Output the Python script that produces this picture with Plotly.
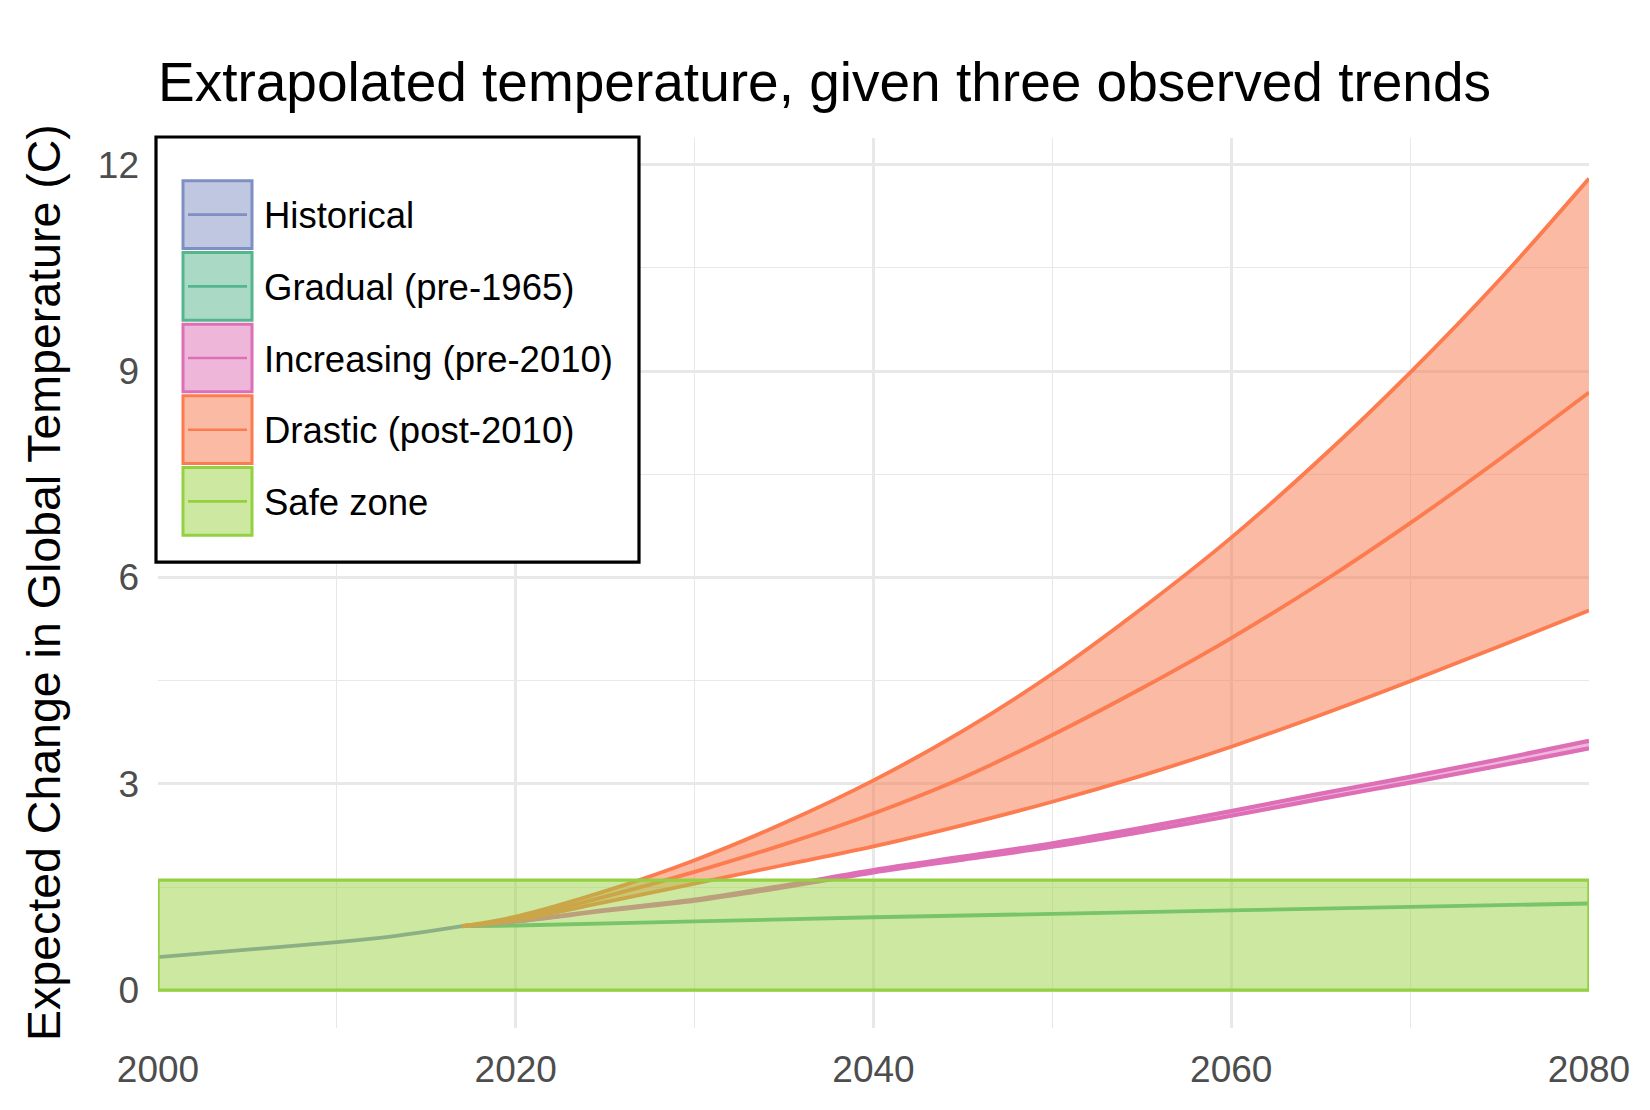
import plotly.graph_objects as go

# ---------------- data ----------------
hist_years = [2000, 2005, 2010, 2013, 2015, 2017]
hist_vals = [0.48, 0.59, 0.70, 0.78, 0.85, 0.93]

grad_years = [2017, 2020, 2030, 2040, 2050, 2060, 2070, 2080]
grad_vals = [0.93, 0.94, 1.00, 1.06, 1.11, 1.16, 1.21, 1.26]

proj_years = [2017, 2020, 2025, 2030, 2035, 2040, 2045, 2050, 2055, 2060, 2065, 2070, 2075, 2080]
incr_lo = [0.93, 0.998, 1.155, 1.302, 1.498, 1.713, 1.899, 2.085, 2.301, 2.536, 2.782, 3.018, 3.263, 3.515]
incr_hi = [0.93, 1.002, 1.165, 1.318, 1.522, 1.747, 1.941, 2.135, 2.359, 2.604, 2.858, 3.102, 3.357, 3.625]
drast_lo = [0.93, 1.02, 1.28, 1.55, 1.82, 2.09, 2.40, 2.74, 3.12, 3.54, 4.00, 4.49, 5.00, 5.52]
drast_mid = [0.93, 1.04, 1.36, 1.72, 2.12, 2.57, 3.09, 3.71, 4.39, 5.12, 5.92, 6.79, 7.72, 8.69]
drast_hi = [0.93, 1.07, 1.44, 1.89, 2.43, 3.05, 3.77, 4.60, 5.55, 6.58, 7.73, 8.98, 10.33, 11.80]

safe_x = [2000, 2080, 2080, 2000, 2000]
safe_y = [0.0, 0.0, 1.6, 1.6, 0.0]

legend_labels = ["Historical", "Gradual (pre-1965)", "Increasing (pre-2010)",
                 "Drastic (post-2010)", "Safe zone"]

# ---------------- styles ----------------
C_HIST = "#7F8FC4"
C_GRAD = "#55B68E"
C_INCR = "#DE6FB6"
C_DRAS = "#FC7B4F"
C_SAFE = "#93D140"
F_HIST = "rgba(127,143,196,0.5)"
F_GRAD = "rgba(85,182,142,0.5)"
F_INCR = "rgba(222,111,182,0.5)"
F_DRAS = "rgba(247,118,72,0.5)"
F_SAFE = "rgba(153,209,67,0.5)"
legend_line = [C_HIST, C_GRAD, C_INCR, C_DRAS, C_SAFE]
legend_fill = [F_HIST, F_GRAD, F_INCR, F_DRAS, F_SAFE]

FONT = "Liberation Sans, Arial, Helvetica, sans-serif"
OFF = 8                      # page body margin in the browser
W, H = 1650 - 2 * OFF, 1110 - 2 * OFF
# plot area in screen pixels
SL, SR, ST, SB = 158, 1589, 138, 1032
L, R, T, B = SL - OFF, SR - OFF, ST - OFF, SB - OFF
LW = 3.8

def px(x):
    return (x - OFF - L) / (R - L)

def py(y):
    return (B - (y - OFF)) / (B - T)

fig = go.Figure()
sp = dict(shape="spline", smoothing=1.0)

fig.add_trace(go.Scatter(x=hist_years, y=hist_vals, mode="lines",
                         line=dict(color=C_HIST, width=LW, **sp), showlegend=False))
fig.add_trace(go.Scatter(x=grad_years, y=grad_vals, mode="lines",
                         line=dict(color=C_GRAD, width=LW, **sp), showlegend=False))
fig.add_trace(go.Scatter(x=proj_years, y=incr_lo, mode="lines",
                         line=dict(color=C_INCR, width=4.2, **sp), showlegend=False))
fig.add_trace(go.Scatter(x=proj_years, y=incr_hi, mode="lines", fill="tonexty",
                         fillcolor=F_INCR,
                         line=dict(color=C_INCR, width=4.2, **sp), showlegend=False))
fig.add_trace(go.Scatter(x=proj_years, y=drast_lo, mode="lines",
                         line=dict(color=C_DRAS, width=LW, **sp), showlegend=False))
fig.add_trace(go.Scatter(x=proj_years, y=drast_hi, mode="lines", fill="tonexty",
                         fillcolor=F_DRAS,
                         line=dict(color=C_DRAS, width=LW, **sp), showlegend=False))
fig.add_trace(go.Scatter(x=proj_years, y=drast_mid, mode="lines",
                         line=dict(color=C_DRAS, width=LW, **sp), showlegend=False))
fig.add_trace(go.Scatter(x=safe_x, y=safe_y, mode="lines", fill="toself",
                         fillcolor=F_SAFE,
                         line=dict(color=C_SAFE, width=3.4), showlegend=False))

# ---------------- manual legend ----------------
shapes = []
annotations = []
shapes.append(dict(type="rect", xref="paper", yref="paper",
                   x0=px(156), x1=px(639), y0=py(564), y1=py(137),
                   line=dict(color="black", width=3.2), fillcolor="white", layer="above"))
for i, lab in enumerate(legend_labels):
    top = 181 + 72 * i
    bot = top + 68
    cy = (top + bot) / 2
    shapes.append(dict(type="rect", xref="paper", yref="paper",
                       x0=px(183), x1=px(252), y0=py(bot), y1=py(top),
                       line=dict(color=legend_line[i], width=3),
                       fillcolor=legend_fill[i], layer="above"))
    shapes.append(dict(type="line", xref="paper", yref="paper",
                       x0=px(188), x1=px(247), y0=py(cy), y1=py(cy),
                       line=dict(color=legend_line[i], width=2.6), layer="above"))
    annotations.append(dict(xref="paper", yref="paper", x=px(262), y=py(cy + 1),
                            xanchor="left", yanchor="middle", showarrow=False,
                            text=lab, font=dict(family=FONT, size=36.5, color="black")))

annotations.append(dict(xref="paper", yref="paper", x=px(44), y=0.5,
                        xanchor="center", yanchor="middle", showarrow=False,
                        textangle=-90, text="Expected Change in Global Temperature (C)",
                        font=dict(family=FONT, size=46.5, color="black")))

fig.update_layout(
    width=W, height=H,
    margin=dict(l=L, r=W - R, t=T, b=H - B, pad=0),
    paper_bgcolor="white", plot_bgcolor="white",
    title=dict(text="Extrapolated temperature, given three observed trends",
               xref="paper", x=0, xanchor="left",
               yref="container", y=1 - (82 - OFF) / H, yanchor="middle",
               pad=dict(l=0, r=0, t=0, b=0),
               font=dict(family=FONT, size=55, color="black")),
    shapes=shapes, annotations=annotations,
    showlegend=False,
    xaxis=dict(range=[2000, 2080], tickmode="array", tickvals=[2000, 2020, 2040, 2060, 2080],
               showgrid=True, gridcolor="#E8E8E8", gridwidth=2.8, zeroline=False,
               showline=False, ticks="", ticklabelstandoff=16,
               tickfont=dict(family=FONT, size=37, color="#4D4D4D"),
               minor=dict(tickmode="array", tickvals=[2010, 2030, 2050, 2070],
                          showgrid=True, gridcolor="#E8E8E8", gridwidth=1.4)),
    yaxis=dict(range=[-0.55, 12.39], tickmode="array", tickvals=[0, 3, 6, 9, 12],
               showgrid=True, gridcolor="#E8E8E8", gridwidth=2.8, zeroline=False,
               showline=False, ticks="", ticklabelstandoff=18,
               tickfont=dict(family=FONT, size=37, color="#4D4D4D"),
               minor=dict(tickmode="array", tickvals=[1.5, 4.5, 7.5, 10.5],
                          showgrid=True, gridcolor="#E8E8E8", gridwidth=1.4)),
)

fig.write_html("out.html")
